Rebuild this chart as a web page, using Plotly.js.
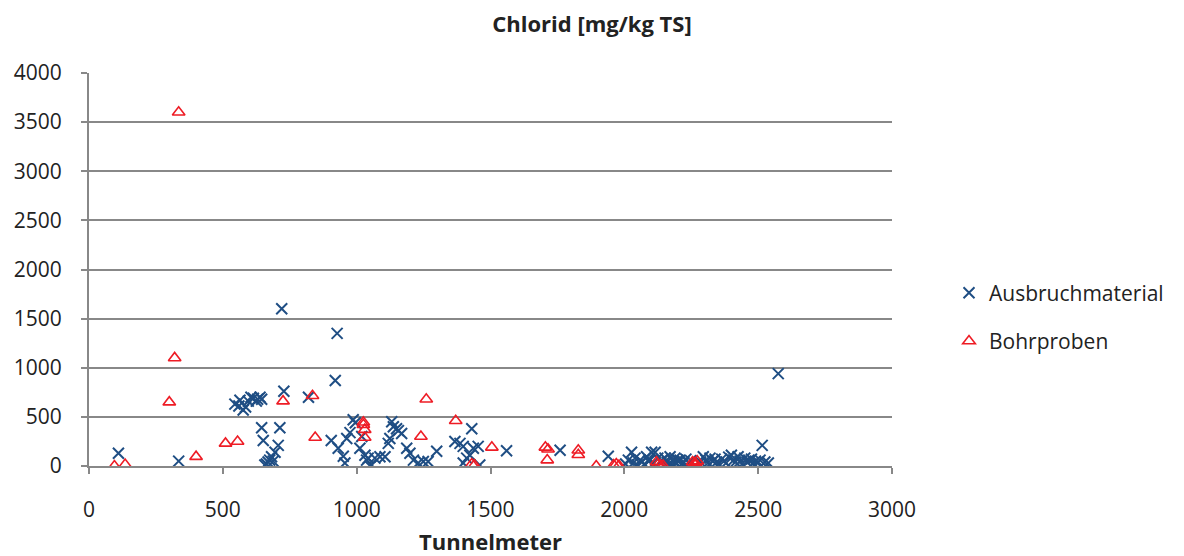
<!DOCTYPE html>
<html>
<head>
<meta charset="utf-8">
<script src="https://cdn.plot.ly/plotly-3.0.1.min.js"></script>
<style>html,body{margin:0;padding:0;background:#fff;}#chart{width:1184px;height:556px;}</style>
</head>
<body>
<div id="chart"></div>
<script>
const ausbruchX = [110,335,545,560,564,576,585,595,605,614,625,630,639,645,645,651,657,663,669,675,682,688,695,707,713,720,728,820,905,920,927,931,950,956,963,975,987,995,1012,1019,1031,1037,1043,1050,1056,1068,1087,1106,1118,1124,1131,1137,1149,1156,1168,1187,1199,1212,1230,1249,1267,1299,1367,1386,1398,1411,1423,1430,1436,1454,1398,1460,1560,1760,1940,
2005,2015,2027,2033,2040,2048,2059,2066,2075,2083,2090,2096,2102,2110,2115,2125,2140,2152,2160,2165,2171,2177,2183,2189,2195,2200,2208,2215,2222,2230,2240,2248,2285,2295,2305,2312,2320,2330,2339,2345,2352,2364,2372,2380,2390,2400,2408,2415,2425,2432,2440,2450,2458,2465,2475,2482,2490,2500,2507,2515,2525,2538,2575];
const ausbruchY = [130,50,630,610,670,570,600,660,700,690,660,680,700,680,390,260,10,20,40,60,95,50,140,210,390,1600,760,700,260,870,1350,180,100,30,280,340,470,440,180,300,110,60,80,0,10,80,95,95,230,280,450,400,380,360,330,180,130,60,30,45,45,150,250,230,200,80,110,380,180,200,30,10,155,160,100,
20,60,140,30,80,10,60,40,20,95,50,60,140,30,140,80,60,80,40,20,95,10,50,80,30,60,60,20,40,70,30,55,40,95,60,30,80,50,70,40,20,70,50,30,90,110,60,40,95,50,20,80,40,60,70,30,50,40,60,210,40,30,940];
const bohrX = [95,135,300,320,335,400,510,555,725,835,845,1025,1025,1030,1030,1240,1260,1370,1430,1440,1505,1705,1715,1712,1828,1828,1895,1960,1970,1980,2120,2125,2135,2145,2255,2262,2268,2272];
const bohrY = [0,15,650,1100,3600,95,230,250,660,715,290,445,420,370,290,300,680,460,20,10,190,190,170,60,160,115,0,10,20,5,40,15,10,5,40,30,20,50];

const font = "Open Sans, Liberation Sans, sans-serif";
const traces = [
  {x: ausbruchX, y: ausbruchY, type: 'scatter', mode: 'markers', name: 'Ausbruchmaterial', legendgroup: 'a',
   marker: {symbol: 'x-thin-open', size: 11, line: {color: '#1f4e84', width: 2}, color: '#1f4e84'}},
  {x: bohrX, y: bohrY, type: 'scatter', mode: 'markers', name: 'Bohrproben', legendgroup: 'b',
   marker: {symbol: 'triangle-up-open', size: 11, line: {color: '#ee1c25', width: 1.6}, color: '#ee1c25'}}
];
const layout = {
  width: 1184, height: 556,
  margin: {l: 89, r: 292, t: 73, b: 90},
  paper_bgcolor: '#fff', plot_bgcolor: '#fff',
  font: {family: font, size: 21, color: '#222'},
  title: {text: '<b>Chlorid [mg/kg TS]</b>', x: 0.5, xref: 'container', xanchor: 'center', y: 0.957, yanchor: 'middle', font: {size: 22, family: font, color: '#222'}},
  xaxis: {range: [0, 3000], dtick: 500, tick0: 0, showgrid: false, zeroline: false, automargin: false,
    showline: true, linecolor: '#888', linewidth: 2, ticks: 'outside', ticklen: 6, tickcolor: '#888', tickwidth: 2,
    ticklabelstandoff: 18,
    tickfont: {size: 21}, title: {text: '<b>Tunnelmeter</b>', font: {size: 22}, standoff: 14}},
  yaxis: {range: [0, 4000], dtick: 500, tick0: 0, showgrid: true, gridcolor: '#888', gridwidth: 2, zeroline: false, automargin: false,
    showline: true, linecolor: '#888', linewidth: 2, ticks: 'outside', ticklen: 6, tickcolor: '#888', tickwidth: 2,
    ticklabelstandoff: 15,
    tickfont: {size: 21}},
  showlegend: true,
  legend: {x: 1.071, xanchor: 'left', y: 0.379, yanchor: 'middle', traceorder: 'grouped', tracegroupgap: 18,
    font: {size: 21}, bgcolor: 'rgba(0,0,0,0)', itemwidth: 30}
};
Plotly.newPlot('chart', traces, layout, {displayModeBar: false, staticPlot: true});
</script>
</body>
</html>
